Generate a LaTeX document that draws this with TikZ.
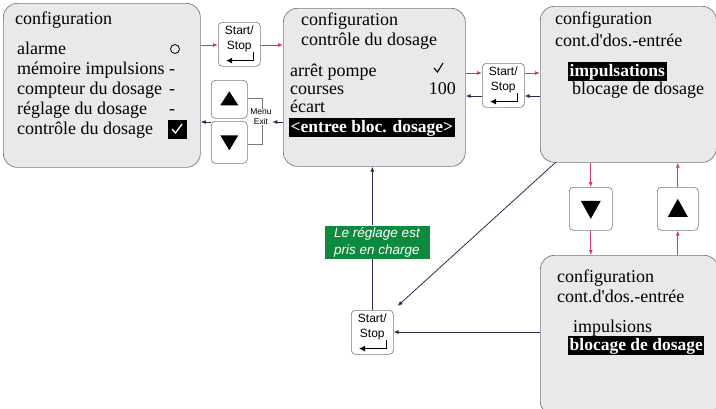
\documentclass[tikz,border=0pt]{standalone}
\usepackage{fontspec}
\setmainfont{Liberation Serif}
\setsansfont{Liberation Sans}
\usetikzlibrary{arrows.meta,calc}
\definecolor{panelfill}{HTML}{E9E9EB}
\definecolor{panelline}{HTML}{7A7A7A}
\definecolor{redarr}{HTML}{E0306A}
\definecolor{navyarr}{HTML}{2A2A55}
\definecolor{greenbox}{HTML}{0E8A3E}
\tikzset{
  panel/.style={draw=panelline, fill=panelfill, rounded corners=14pt, line width=0.7pt, anchor=north west, inner sep=0pt},
  keybox/.style={draw=panelline, fill=white, rounded corners=4pt, line width=0.6pt, anchor=north west, inner sep=0pt},
  txt/.style={anchor=base west, inner sep=0pt, font=\fontsize{18}{20}\selectfont},
  hl/.style={anchor=base west, inner sep=1.5pt, fill=black, text=white, font=\fontsize{17.5}{20}\selectfont\bfseries},
  keytxt/.style={font=\sffamily\fontsize{12}{15}\selectfont, align=center, inner sep=0pt},
  rarr/.style={draw=redarr, line width=0.8pt, -{Latex[length=5pt,width=4pt]}},
  narr/.style={draw=navyarr, line width=0.8pt, -{Latex[length=5pt,width=4pt]}},
  nline/.style={draw=navyarr, line width=0.8pt},
  tri/.style={fill=black},
}
\newcommand{\enterkey}[3]{% name, x, y (north west)
  \node[keybox, minimum width=42pt, minimum height=44pt] (#1) at (#2,#3) {};
  \node[keytxt] (#1t) at ($(#1.north)+(0,17)$) {Start/\\Stop};
  \draw[line width=1.7pt, -{Latex[length=6pt,width=6pt]}] ($(#1.south east)+(-7,-15)$) |- ($(#1.south west)+(8,-6)$);
}
\begin{document}
\begin{tikzpicture}[x=1pt,y=-1pt]
\useasboundingbox (0,0) rectangle (716,408);
% panels
\node[panel, minimum width=197pt, minimum height=164pt] (p1) at (3,3) {};
\node[panel, minimum width=182pt, minimum height=158pt] (p2) at (283,8) {};
\node[panel, minimum width=176pt, minimum height=156pt] (p3) at (540,6) {};
\node[panel, minimum width=178pt, minimum height=160pt] (p4) at (540,255) {};
% panel 1 texts
\node[txt] (t11) at (15,24) {configuration};
\node[txt] (t12) at (17,54) {alarme};
\node[txt] (t13) at (17,74) {mémoire impulsions};
\node[txt] (t14) at (17,94) {compteur du dosage};
\node[txt] (t15) at (17,114) {réglage du dosage};
\node[txt] (t16) at (17,134) {contrôle du dosage};
\node[draw, circle, line width=0.8pt, minimum size=9pt, inner sep=0pt] (c1) at (175,49) {};
\node[txt] (d1) at (169,74) {-};
\node[txt] (d2) at (169,94) {-};
\node[txt] (d3) at (169,114) {-};
\node[fill=black, minimum size=19pt, inner sep=0pt] (chk) at (177,129) {};
\draw[white, line width=1.3pt] ($(chk)+(-5,0)$) -- ($(chk)+(-1.5,4)$) -- ($(chk)+(5,-5)$);
% panel 2 texts
\node[txt] (t21) at (301,25) {configuration};
\node[txt] (t22) at (301,45) {contrôle du dosage};
\node[txt] (t23) at (290,76) {arrêt pompe};
\node[txt] (t24) at (290,94) {courses};
\node[txt, anchor=base east] (t25) at (456,94) {100};
\node[txt] (t26) at (290,112) {écart};
\draw[line width=1.1pt] (434,68) -- (437.5,72) -- (443,63);
\node[hl] (t27) at (289,132) {<entree bloc. dosage>};
% panel 3 texts
\node[txt] (t31) at (555,24) {configuration};
\node[txt] (t32) at (555,46) {cont.d\textquotesingle dos.-entrée};
\node[hl] (t33) at (568,76) {impulsations};
\node[txt] (t34) at (572,94) {blocage de dosage};
% panel 4 texts
\node[txt] (t41) at (557,282) {configuration};
\node[txt] (t42) at (557,302) {cont.d\textquotesingle dos.-entrée};
\node[txt] (t43) at (573,332) {impulsions};
\node[hl] (t44) at (568,350) {blocage de dosage};
% keys
\enterkey{k1}{218}{22}
\enterkey{k2}{482}{63}
\enterkey{k3}{351}{310}
\node[keybox, minimum width=36pt, minimum height=38pt] (up1) at (211,80) {};
\node[keybox, minimum width=36pt, minimum height=42pt] (dn1) at (211,121) {};
\fill[tri] ($(up1)+(-9,6)$) -- ($(up1)+(9,6)$) -- ($(up1)+(0,-8)$) -- cycle;
\fill[tri] ($(dn1)+(-9,-7)$) -- ($(dn1)+(9,-7)$) -- ($(dn1)+(0,8)$) -- cycle;
\node[keybox, minimum width=43pt, minimum height=43pt] (dn2) at (569,187) {};
\node[keybox, minimum width=41pt, minimum height=43pt] (up2) at (657,187) {};
\fill[tri] ($(dn2)+(-10,-8)$) -- ($(dn2)+(10,-8)$) -- ($(dn2)+(0,10)$) -- cycle;
\fill[tri] ($(up2)+(-10,8)$) -- ($(up2)+(10,8)$) -- ($(up2)+(0,-10)$) -- cycle;
% menu/exit bracket
\coordinate (mb1) at (262,98);
\coordinate (mb2) at (262,144);
\draw[panelline, line width=0.6pt] (up1.east |- mb1) -- (mb1) -- (mb2) -- (dn1.east |- mb2);
\node[keytxt, fill=white, inner sep=0.5pt, font=\sffamily\fontsize{8.5}{10}\selectfont] (menu) at (261,117) {Menu\\Exit};
% green label
\node[fill=greenbox, text=white, font=\sffamily\itshape\fontsize{13.5}{17}\selectfont, align=center, minimum width=105pt, minimum height=33pt, inner sep=1pt] (gl) at (377,242) {Le réglage est\\pris en charge};
% arrows
\coordinate (a1) at (0,45);
\draw[rarr] (p1.east |- a1) -- (k1.west |- a1);
\draw[rarr] (k1.east |- a1) -- (p2.west |- a1);
\coordinate (a2) at (0,122);
\draw[narr] (p2.west |- a2) -- (menu.east |- a2);
\draw[narr] (up1.west |- a2) -- (p1.east |- a2);
\coordinate (a3) at (0,73);
\coordinate (a4) at (0,96);
\draw[rarr] (p2.east |- a3) -- (k2.west |- a3);
\draw[rarr] (k2.east |- a3) -- (p3.west |- a3);
\draw[narr] (p3.west |- a4) -- (k2.east |- a4);
\draw[narr] (k2.west |- a4) -- (p2.east |- a4);
\draw[rarr] (dn2.north |- p3.south) -- (dn2.north);
\draw[rarr] (dn2.south) -- (dn2.south |- p4.north);
\draw[rarr] (up2.south |- p4.north) -- (up2.south);
\draw[rarr] (up2.north) -- (up2.north |- p3.south);
\coordinate (diag) at (556,162);
\draw[narr] (diag) -- ($(k3.north east)+(4,-4)$);
\coordinate (a5) at (0,332);
\draw[narr] (p4.west |- a5) -- (k3.east |- a5);
\draw[nline] (k3.north) -- (k3.north |- gl.south);
\draw[narr] (k3.north |- gl.north) -- (k3.north |- p2.south);
\end{tikzpicture}
\end{document}
